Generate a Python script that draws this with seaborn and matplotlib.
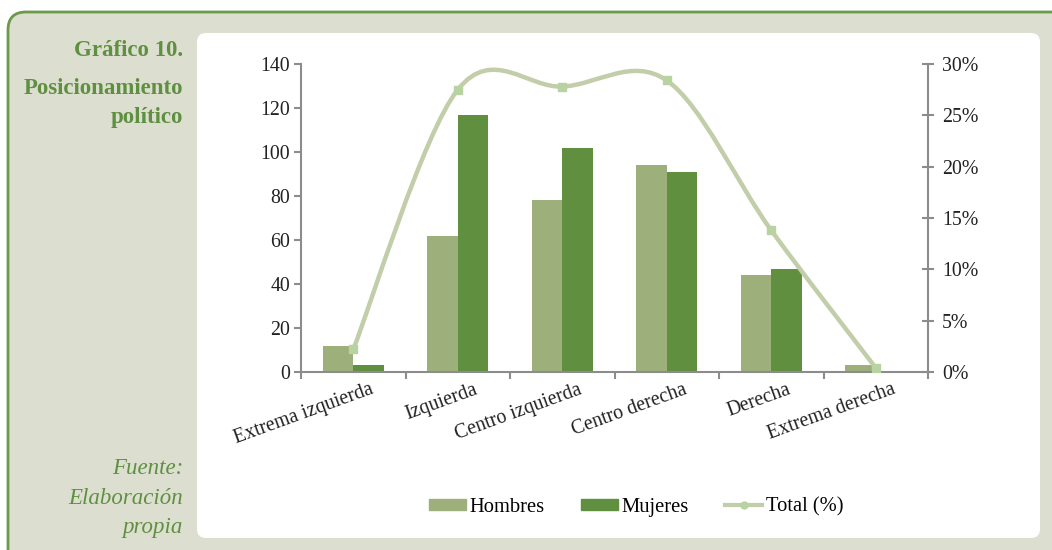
import numpy as np
import pandas as pd
import matplotlib.pyplot as plt
import seaborn as sns
from matplotlib.path import Path
from matplotlib.patches import PathPatch, FancyBboxPatch, Patch
from matplotlib.lines import Line2D
from matplotlib.transforms import IdentityTransform, ScaledTranslation

# datos
categorias = ["Extrema izquierda", "Izquierda", "Centro izquierda",
              "Centro derecha", "Derecha", "Extrema derecha"]
hombres = [12, 62, 78, 94, 44, 3]
mujeres = [3, 117, 102, 91, 47, 0]
total_pct = [2.2, 27.5, 27.8, 28.4, 13.8, 0.4]
y_ticks = [0, 20, 40, 60, 80, 100, 120, 140]
pct_ticks = [0, 5, 10, 15, 20, 25, 30]

c_h = "#9db07c"
c_m = "#608f40"
c_line = "#c2cea9"
c_mark = "#b8d2a2"
c_green = "#5f8f41"
c_bg = "#dcdfcf"
c_axis = "#8c8c8c"
fs = 14.3

df = pd.DataFrame({
    "cat": categorias * 2,
    "valor": hombres + mujeres,
    "sexo": ["Hombres"] * 6 + ["Mujeres"] * 6,
})

plt.rcParams["font.family"] = ["Liberation Serif", "DejaVu Serif"]
fig = plt.figure(figsize=(10.52, 5.5), dpi=100)
fig.patch.set_facecolor("white")

# marco de fondo
frame = FancyBboxPatch((8, -40), 1100, 538 + 40,
                       boxstyle="round,pad=0,rounding_size=18",
                       transform=IdentityTransform(), facecolor=c_bg,
                       edgecolor="#6a9a4a", linewidth=2, zorder=-10)
fig.add_artist(frame)
panel = FancyBboxPatch((197, 550 - 538), 1040 - 197, 538 - 33,
                       boxstyle="round,pad=0,rounding_size=9",
                       transform=IdentityTransform(), facecolor="white",
                       edgecolor="none", zorder=-9)
fig.add_artist(panel)

ax = fig.add_axes([301 / 1052, 1 - 372 / 550, (928 - 301) / 1052, (372 - 64) / 550])
ax.set_facecolor("none")
sns.barplot(data=df, x="cat", y="valor", hue="sexo", palette=[c_h, c_m],
            width=0.58, gap=0, saturation=1, linewidth=0, legend=False, ax=ax)
ax.set_ylim(0, 140)
ax.set_xlim(-0.5, 5.5)
ax.set_yticks(y_ticks)
ax.set_xlabel("")
ax.set_ylabel("")
for s in ["top", "right"]:
    ax.spines[s].set_visible(False)
for s in ["left", "bottom"]:
    ax.spines[s].set_color(c_axis)
    ax.spines[s].set_linewidth(1.5)
ax.tick_params(axis="y", direction="out", length=5, width=1.5, color=c_axis,
               labelsize=fs, labelcolor="#222222", pad=3)
ax.set_xticks(np.arange(-0.5, 6, 1), minor=True)
ax.tick_params(axis="x", which="minor", direction="out", length=5, width=1.5, color=c_axis)
ax.tick_params(axis="x", which="major", length=0, labelsize=fs, labelcolor="#222222", pad=6)
ax.set_xticks(range(len(categorias)))
ax.set_xticklabels(categorias, rotation=20, ha="right", rotation_mode="anchor")
for lab in ax.get_xticklabels():
    lab.set_transform(lab.get_transform() + ScaledTranslation(0.16, 0, fig.dpi_scale_trans))

# eje secundario con la línea suavizada
ax2 = ax.twinx()
ax2.set_ylim(0, 30)
ax2.set_yticks(pct_ticks)
ax2.set_yticklabels([f"{v}%" for v in pct_ticks])
for s in ["top", "left", "bottom"]:
    ax2.spines[s].set_visible(False)
ax2.spines["right"].set_color(c_axis)
ax2.spines["right"].set_linewidth(1.5)
ax2.tick_params(axis="y", direction="inout", length=8, width=1.5, color=c_axis,
                labelsize=fs, labelcolor="#222222", pad=6)

xs = np.arange(len(total_pct), dtype=float)
ys = np.array(total_pct, dtype=float)
pts = np.column_stack([xs, ys])
ext = np.vstack([pts[0], pts, pts[-1]])
verts = [tuple(pts[0])]
codes = [Path.MOVETO]
for i in range(len(pts) - 1):
    p0, p1, p2, p3 = ext[i], ext[i + 1], ext[i + 2], ext[i + 3]
    c1 = p1 + (p2 - p0) / 6
    c2 = p2 - (p3 - p1) / 6
    verts += [tuple(c1), tuple(c2), tuple(p2)]
    codes += [Path.CURVE4] * 3
ax2.add_patch(PathPatch(Path(verts, codes), fill=False, edgecolor=c_line,
                        linewidth=3.2, capstyle="round", zorder=3))
ax2.plot(xs, ys, ls="none", marker="s", ms=6, color=c_mark, zorder=4)

# textos laterales
for yy, txt in [(50, "Gráfico 10."), (88, "Posicionamiento"), (117, "político")]:
    fig.text(183 / 1052, 1 - yy / 550, txt, ha="right", va="center",
             fontsize=16.5, fontweight="bold", color=c_green)
for yy, txt in [(468, "Fuente:"), (498, "Elaboración"), (527, "propia")]:
    fig.text(183 / 1052, 1 - yy / 550, txt, ha="right", va="center",
             fontsize=16.5, style="italic", color=c_green)

handles = [Patch(color=c_h, label="Hombres"),
           Patch(color=c_m, label="Mujeres"),
           Line2D([], [], color=c_line, lw=3, marker="o", ms=5,
                  markerfacecolor=c_mark, markeredgecolor=c_mark, label="Total (%)")]
fig.legend(handles=handles, loc="center", ncol=3, frameon=False,
           bbox_to_anchor=(636 / 1052, 1 - 507 / 550), fontsize=fs + 0.5,
           handlelength=1.8, handleheight=0.45, handletextpad=0.15, columnspacing=1.8)

fig.savefig("out.png", dpi=100)
